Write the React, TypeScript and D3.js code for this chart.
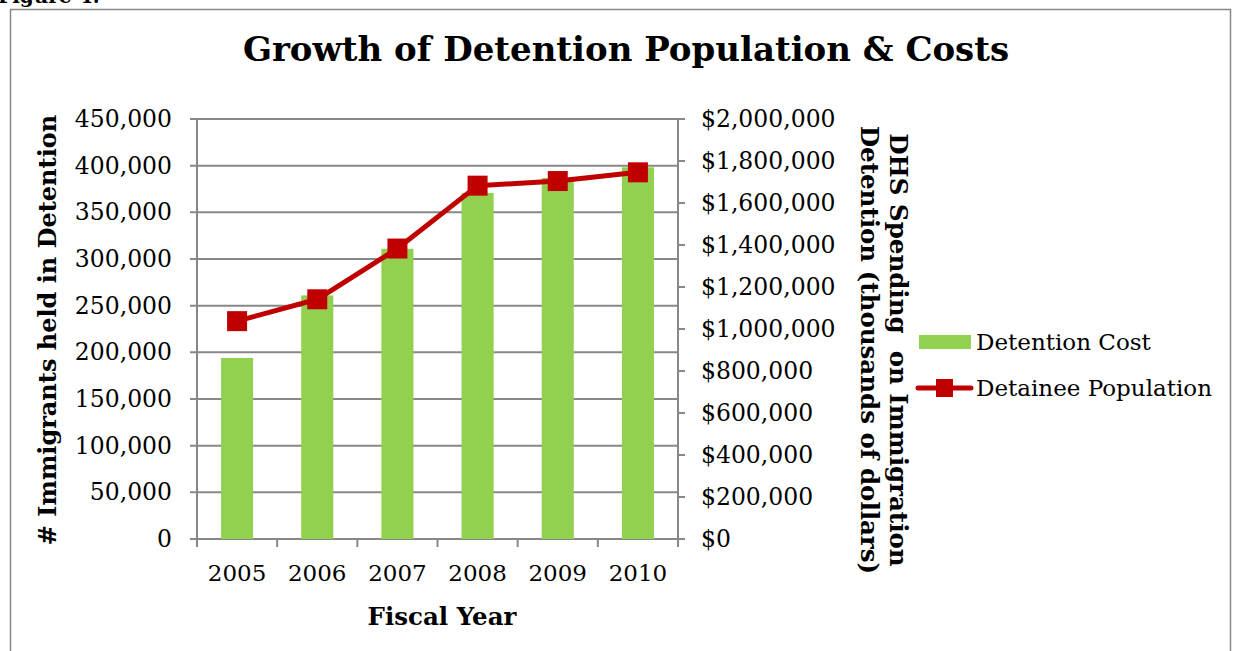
import React from 'react';
import * as d3 from 'd3';

const years = ['2005', '2006', '2007', '2008', '2009', '2010'];
// detention cost, thousands of dollars (right axis)
const costValues = [862000, 1160000, 1382000, 1648000, 1719000, 1770000];
// detainee population (left axis)
const populationValues = [233417, 256842, 311213, 378582, 383524, 392862];
const leftTicks = [0, 50000, 100000, 150000, 200000, 250000, 300000, 350000, 400000, 450000];
const rightTicks = [0, 200000, 400000, 600000, 800000, 1000000, 1200000, 1400000, 1600000, 1800000, 2000000];

const W = 1233;
const H = 651;
const plot = { left: 197, right: 678, top: 119, bottom: 539 };
const GREEN = '#92D050';
const RED = '#C00000';
const GRID = '#878787';
const FONT = '"DejaVu Serif", serif';

const App: React.FC = () => {
  const x = d3.scaleBand<string>()
    .domain(years)
    .range([plot.left, plot.right])
    .paddingInner(0.6)
    .paddingOuter(0.3);
  const xCenter = (d: string) => (x(d) as number) + x.bandwidth() / 2;

  const yLeft = d3.scaleLinear().domain([0, 450000]).range([plot.bottom, plot.top]);
  const yRight = d3.scaleLinear().domain([0, 2000000]).range([plot.bottom, plot.top]);

  const fmt = d3.format(',');
  const line = d3.line<number>()
    .x((_, i) => xCenter(years[i]))
    .y(d => yLeft(d));

  // band boundaries for bottom tick marks
  const boundaries = d3.range(years.length + 1).map(i => plot.left + i * (plot.right - plot.left) / years.length);

  return (
    <svg width={W} height={H} style={{ position: 'absolute', left: 0, top: 0, background: '#fff' }}>
      <rect x={0} y={0} width={W} height={H} fill="#fff" />
      <text x={-2} y={3} fontFamily={FONT} fontWeight="bold" fontSize={20} fill="#000">Figure 4:</text>
      <rect x={10.5} y={9.5} width={1220} height={700} fill="none" stroke={GRID} strokeWidth={1.5} />

      <text x={626} y={61} textAnchor="middle" fontFamily={FONT} fontWeight="bold" fontSize={34} fill="#000">
        Growth of Detention Population &amp; Costs
      </text>

      {/* gridlines */}
      {leftTicks.map(t => (
        <line key={'g' + t} x1={plot.left - 7} x2={plot.right} y1={yLeft(t)} y2={yLeft(t)} stroke={GRID} strokeWidth={2} />
      ))}
      {/* right axis ticks */}
      {rightTicks.map(t => (
        <line key={'rt' + t} x1={plot.right} x2={plot.right + 7} y1={yRight(t)} y2={yRight(t)} stroke={GRID} strokeWidth={2} />
      ))}
      {/* bottom ticks */}
      {boundaries.map((b, i) => (
        <line key={'bt' + i} x1={b} x2={b} y1={plot.bottom} y2={plot.bottom + 8} stroke={GRID} strokeWidth={2} />
      ))}
      <line x1={plot.left} x2={plot.left} y1={plot.top} y2={plot.bottom} stroke={GRID} strokeWidth={2} />
      <line x1={plot.right} x2={plot.right} y1={plot.top} y2={plot.bottom} stroke={GRID} strokeWidth={2} />

      {/* bars */}
      {costValues.map((v, i) => (
        <rect key={'b' + i} x={x(years[i])} y={yRight(v)} width={x.bandwidth()} height={plot.bottom - yRight(v)} fill={GREEN} />
      ))}

      {/* line + markers */}
      <path d={line(populationValues) || ''} fill="none" stroke={RED} strokeWidth={5} strokeLinejoin="round" />
      {populationValues.map((v, i) => (
        <rect key={'m' + i} x={xCenter(years[i]) - 10} y={yLeft(v) - 10} width={20} height={20} fill={RED} />
      ))}

      {/* left tick labels */}
      {leftTicks.map(t => (
        <text key={'lt' + t} x={172} y={yLeft(t) + 8} textAnchor="end" fontFamily={FONT} fontSize={23.5} fill="#000">
          {fmt(t)}
        </text>
      ))}
      {/* right tick labels */}
      {rightTicks.map(t => (
        <text key={'rl' + t} x={701} y={yRight(t) + 8} fontFamily={FONT} fontSize={23.5} fill="#000">
          {'$' + fmt(t)}
        </text>
      ))}
      {/* year labels */}
      {years.map(y => (
        <text key={'y' + y} x={xCenter(y)} y={581} textAnchor="middle" fontFamily={FONT} fontSize={23} fill="#000">
          {y}
        </text>
      ))}

      <text x={442} y={625} textAnchor="middle" fontFamily={FONT} fontWeight="bold" fontSize={24.5} fill="#000">
        Fiscal Year
      </text>
      <text transform={`translate(56,330) rotate(-90)`} textAnchor="middle" fontFamily={FONT} fontWeight="bold" fontSize={24} fill="#000">
        # Immigrants held in Detention
      </text>
      <text transform={`translate(890,350) rotate(90)`} textAnchor="middle" fontFamily={FONT} fontWeight="bold" fontSize={24.5} fill="#000" xmlSpace="preserve">
        DHS Spending  on Immigration
      </text>
      <text transform={`translate(861,350) rotate(90)`} textAnchor="middle" fontFamily={FONT} fontWeight="bold" fontSize={24.5} fill="#000">
        Detention (thousands of dollars)
      </text>

      {/* legend */}
      <rect x={919} y={335} width={52} height={14} fill={GREEN} />
      <text x={976} y={350} fontFamily={FONT} fontSize={23} fill="#000">Detention Cost</text>
      <line x1={918} x2={971} y1={388} y2={388} stroke={RED} strokeWidth={5} strokeLinecap="round" />
      <rect x={936} y={379} width={17} height={18} fill={RED} />
      <text x={976} y={396} fontFamily={FONT} fontSize={23} fill="#000">Detainee Population</text>
    </svg>
  );
};

export default App;
